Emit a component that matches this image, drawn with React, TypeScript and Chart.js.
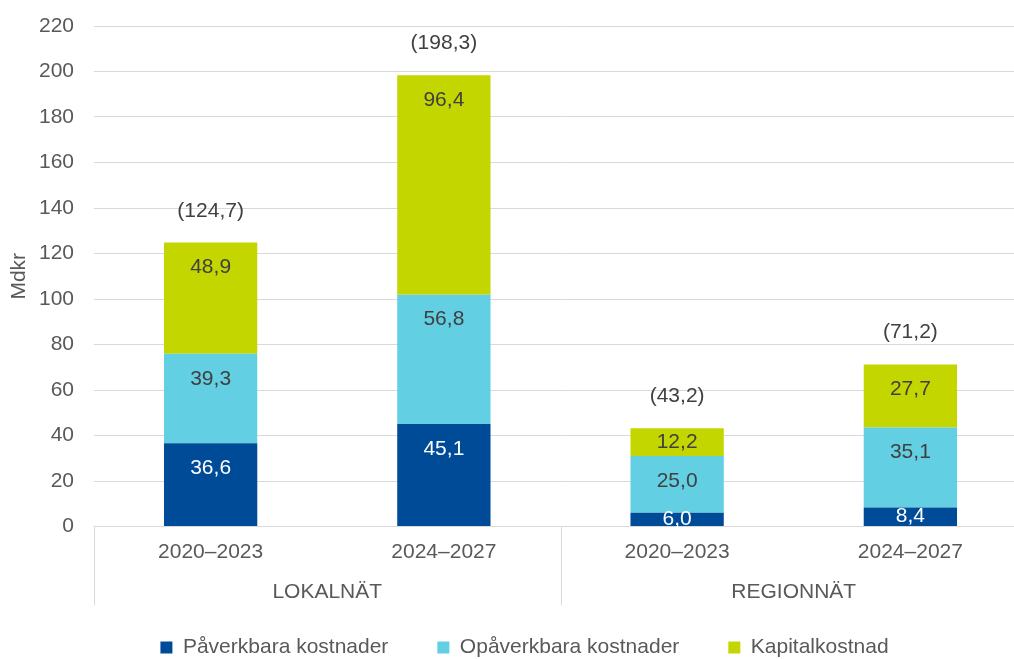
import React, { useEffect, useRef } from "react";
import { Chart, registerables } from "chart.js";

Chart.register(...registerables);

const categories = ["2020–2023", "2024–2027", "2020–2023", "2024–2027"];
const groups = ["LOKALNÄT", "REGIONNÄT"];
const seriesNames = ["Påverkbara kostnader", "Opåverkbara kostnader", "Kapitalkostnad"];
const paverkbara = [36.6, 45.1, 6.0, 8.4];
const opaverkbara = [39.3, 56.8, 25.0, 35.1];
const kapital = [48.9, 96.4, 12.2, 27.7];
const totals = [124.7, 198.3, 43.2, 71.2];
const yTickMax = 220;
const yTickStep = 20;

const colors = ["#004B98", "#62CFE3", "#C4D600"];
const labelColors = ["#FFFFFF", "#404040", "#404040"];
const FONT = "'Liberation Sans', Arial, sans-serif";
const FS = 21;

const fmt = (v: number) => v.toFixed(1).replace(".", ",");

const overlayPlugin = {
  id: "overlay",
  afterDatasetsDraw(chart: any) {
    const ctx = chart.ctx;
    const xs = chart.scales.x;
    const ys = chart.scales.y;
    const area = chart.chartArea;
    ctx.save();
    ctx.strokeStyle = "#d9d9d9";
    ctx.lineWidth = 1;
    const sepXs = [
      area.left,
      (xs.getPixelForValue(1) + xs.getPixelForValue(2)) / 2,
      area.right,
    ];
    sepXs.forEach((sx) => {
      const px = Math.round(sx) + 0.5;
      ctx.beginPath();
      ctx.moveTo(px, area.bottom);
      ctx.lineTo(px, area.bottom + 79);
      ctx.stroke();
    });
    ctx.font = `${FS}px ${FONT}`;
    ctx.textAlign = "center";
    ctx.textBaseline = "middle";
    ctx.fillStyle = "#595959";
    categories.forEach((c, i) => {
      ctx.fillText(c, xs.getPixelForValue(i), area.bottom + 26);
    });
    groups.forEach((g, gi) => {
      const gx = (xs.getPixelForValue(gi * 2) + xs.getPixelForValue(gi * 2 + 1)) / 2;
      ctx.fillText(g, gx, area.bottom + 66);
    });
    chart.data.datasets.forEach((ds: any, di: number) => {
      const meta = chart.getDatasetMeta(di);
      meta.data.forEach((bar: any, i: number) => {
        const p = bar.getProps(["x", "y", "base"], true);
        const top = Math.min(p.y, p.base);
        const bottom = Math.max(p.y, p.base);
        const ly = Math.min(top + 25, (top + bottom) / 2);
        ctx.fillStyle = labelColors[di];
        ctx.fillText(fmt(ds.data[i]), p.x, ly);
      });
    });
    ctx.fillStyle = "#404040";
    totals.forEach((t, i) => {
      ctx.fillText("(" + fmt(t) + ")", xs.getPixelForValue(i), ys.getPixelForValue(t) - 32);
    });
    ctx.restore();
  },
};

export default function App() {
  const ref = useRef<HTMLCanvasElement | null>(null);
  useEffect(() => {
    document.body.style.margin = "0";
    if (!ref.current) return;
    const chart = new Chart(ref.current, {
      type: "bar",
      data: {
        labels: categories,
        datasets: [paverkbara, opaverkbara, kapital].map((d, i) => ({
          label: seriesNames[i],
          data: d,
          backgroundColor: colors[i],
          borderWidth: 0,
          categoryPercentage: 1,
          barPercentage: 0.4,
        })),
      },
      options: {
        responsive: false,
        animation: false,
        layout: { padding: { top: 26, left: 22, right: 13, bottom: 0 } },
        plugins: {
          tooltip: { enabled: false },
          legend: {
            position: "bottom",
            labels: {
              boxWidth: 12,
              boxHeight: 12,
              padding: 49,
              color: "#595959",
              font: { size: FS, family: FONT },
            },
          },
        },
        scales: {
          x: {
            stacked: true,
            grid: { display: false },
            border: { display: false },
            ticks: { display: false },
            afterFit: (s: any) => {
              s.height = 61.5;
            },
          },
          y: {
            stacked: true,
            min: 0,
            max: yTickMax,
            ticks: {
              stepSize: yTickStep,
              padding: 20,
              color: "#595959",
              font: { size: FS, family: FONT },
            },
            grid: { color: "#d9d9d9", drawTicks: false },
            border: { display: false },
            title: {
              display: true,
              text: "Mdkr",
              color: "#595959",
              font: { size: FS, family: FONT },
              padding: { top: -15, bottom: 0 },
            },
            afterFit: (s: any) => {
              s.width = 72;
              s.paddingTop = 6;
              s.paddingBottom = 6;
            },
          },
        },
      },
      plugins: [overlayPlugin],
    });
    return () => chart.destroy();
  }, []);
  return (
    <div style={{ width: 1014, height: 659, overflow: "hidden", background: "#fff" }}>
      <canvas ref={ref} width={1040} height={668} style={{ display: "block" }} />
    </div>
  );
}
